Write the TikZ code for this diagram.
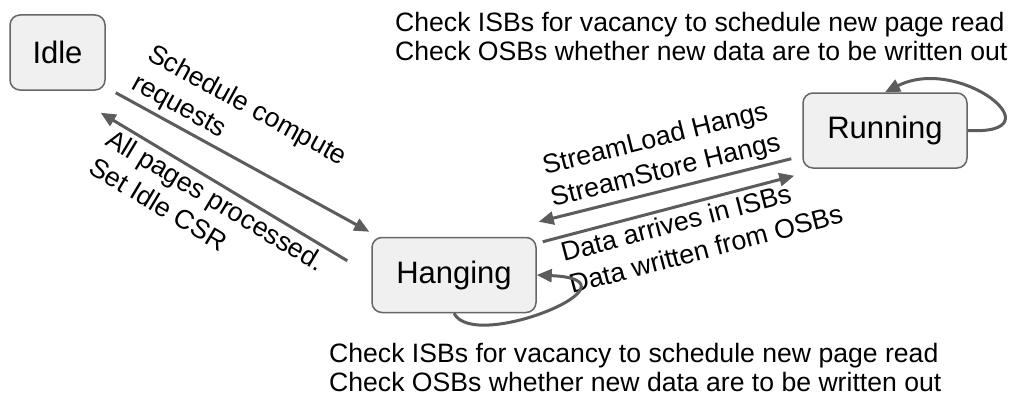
\documentclass[tikz,border=0pt]{standalone}
\usepackage{fontspec}
\setmainfont{Liberation Sans}
\usepackage{xcolor}
\definecolor{boxgray}{rgb}{0.94,0.94,0.94}
\definecolor{edgegray}{rgb}{0.40,0.40,0.40}
\definecolor{arrowgray}{rgb}{0.36,0.36,0.36}
\usepackage{tikz}
\usetikzlibrary{arrows.meta, positioning}
\newcommand{\statefont}{\fontsize{31}{34}\selectfont}
\newcommand{\notefont}{\fontsize{26.6}{29}\selectfont}
\newcommand{\slantfont}{\fontsize{26.8}{33}\selectfont}

\begin{document}
\begin{tikzpicture}[x=1pt, y=-1pt, >={Triangle[length=15pt,width=13pt]},
  state/.style={draw=edgegray, line width=1.5pt, fill=boxgray, rounded corners=10pt, minimum height=75pt, font=\statefont},
  flow/.style={draw=arrowgray, line width=3pt},
  lbl/.style={font=\slantfont, align=left, inner sep=4pt},
  note/.style={font=\notefont, align=left, inner sep=0pt, anchor=west}]
\useasboundingbox (0,0) rectangle (1009,396);
% states
\node[state, minimum width=95pt] (idle) at (57.5,52.5) {Idle};
\node[state, minimum width=164pt] (hanging) at (454,275) {Hanging};
\node[state, minimum width=164pt] (running) at (885,130.5) {Running};
% idle <-> hanging
\draw[flow, ->] ([xshift=10pt,yshift=-2pt]idle.south east) -- ([xshift=-2pt,yshift=5pt]hanging.north west)
  node[lbl, sloped, above, pos=0.42] {Schedule compute\\requests};
\draw[flow, <-] ([xshift=-5pt,yshift=-22pt]idle.south east) -- ([xshift=-24pt,yshift=-24pt]hanging.north west)
  node[lbl, sloped, below, midway] {All pages processed.\\Set Idle CSR};
% hanging <-> running
\draw[flow, <-] ([xshift=2pt,yshift=15pt]hanging.north east) -- ([xshift=-11pt,yshift=10pt]running.south west)
  node[lbl, sloped, above, pos=0.52] {StreamLoad Hangs\\StreamStore Hangs};
\draw[flow, ->] ([xshift=6pt,yshift=-5pt]hanging.north east) -- ([xshift=-8pt,yshift=-7pt]running.south west)
  node[lbl, sloped, below, pos=0.6] {Data arrives in ISBs\\Data written from OSBs};
% self loops
\draw[flow, ->] (hanging.south) .. controls +(20,40) and +(114,5) .. (hanging.east);
\draw[flow, ->] (running.east) .. controls +(93,5) and +(75,-38) .. (running.north);
% loop notes
\node[note] (runcheck) at (395,36) {Check ISBs for vacancy to schedule new page read\\Check OSBs whether new data are to be written out};
\node[note] (hangcheck) at (329,367) {Check ISBs for vacancy to schedule new page read\\Check OSBs whether new data are to be written out};
\end{tikzpicture}
\end{document}
